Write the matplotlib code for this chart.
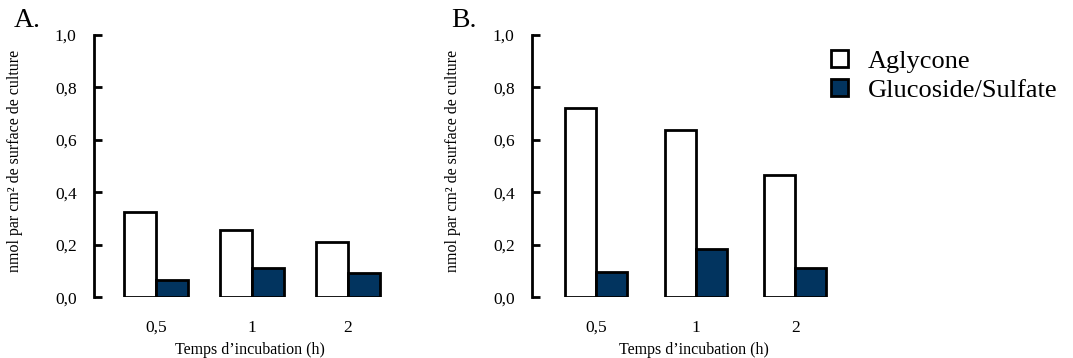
import numpy as np
import matplotlib
matplotlib.use("Agg")
import matplotlib.pyplot as plt
from matplotlib.patches import Patch

plt.rcParams['font.family'] = ['Liberation Serif', 'DejaVu Serif']

# data
times = ['0,5', '1', '2']
aglycone_a = [0.326, 0.256, 0.212]
glucoside_a = [0.066, 0.110, 0.094]
aglycone_b = [0.722, 0.637, 0.466]
glucoside_b = [0.095, 0.183, 0.113]
yticks = [0.0, 0.2, 0.4, 0.6, 0.8, 1.0]
ytick_labels = ['0,0', '0,2', '0,4', '0,6', '0,8', '1,0']

BLUE = '#02345f'
LW = 2.0
W, H = 1073, 358

fig = plt.figure(figsize=(W / 100, H / 100), dpi=100)


def panel(rect, white, blue, bw, left_lim):
  ax = fig.add_axes(rect)
  x = np.arange(len(times))
  ax.bar(x - bw / 2, white, bw, color='white', edgecolor='black', linewidth=LW)
  ax.bar(x + bw / 2, blue, bw, color=BLUE, edgecolor='black', linewidth=LW)
  ax.set_xlim(left_lim, 2.6)
  ax.set_ylim(0, 1.0)
  for s in ['top', 'right', 'bottom']:
    ax.spines[s].set_visible(False)
  ax.spines['left'].set_linewidth(LW)
  ax.set_yticks(yticks)
  ax.set_yticklabels(ytick_labels, fontsize=12.5)
  ax.tick_params(axis='y', direction='in', length=6, width=LW, pad=12.5)
  ax.set_xticks(x)
  ax.set_xticklabels(times, fontsize=12.5)
  ax.tick_params(axis='x', length=0, pad=16)
  ax.set_xlabel('Temps d’incubation (h)', fontsize=11.5, labelpad=4.5)
  ax.set_ylabel('nmol par cm² de surface de culture', fontsize=11.5)
  ax.yaxis.set_label_coords(-71 / (rect[2] * W), 0.52)
  return ax


bot = 1 - 297.3 / H
hgt = 262.5 / H
ax_a = panel([94 / W, bot, 311.6 / W, hgt], aglycone_a, glucoside_a, 0.333, -0.646)
ax_b = panel([532 / W, bot, 323 / W, hgt], aglycone_b, glucoside_b, 0.312, -0.648)

fig.text(14 / W, 1 - 8 / H, 'A.', fontsize=20, va='top', ha='left')
fig.text(451 / W, 1 - 8 / H, 'B.', fontsize=20, va='top', ha='left')

handles = [Patch(facecolor='white', edgecolor='black', linewidth=LW, label='Aglycone'),
           Patch(facecolor=BLUE, edgecolor='black', linewidth=LW, label='Glucoside/Sulfate')]
fig.legend(handles=handles, loc='upper left', bbox_to_anchor=(831 / W, 1 - 50 / H),
           frameon=False, fontsize=19, handlelength=0.63, handleheight=0.63,
           handletextpad=0.75, labelspacing=0.23, borderpad=0, borderaxespad=0)

fig.savefig('out.png', dpi=100)
